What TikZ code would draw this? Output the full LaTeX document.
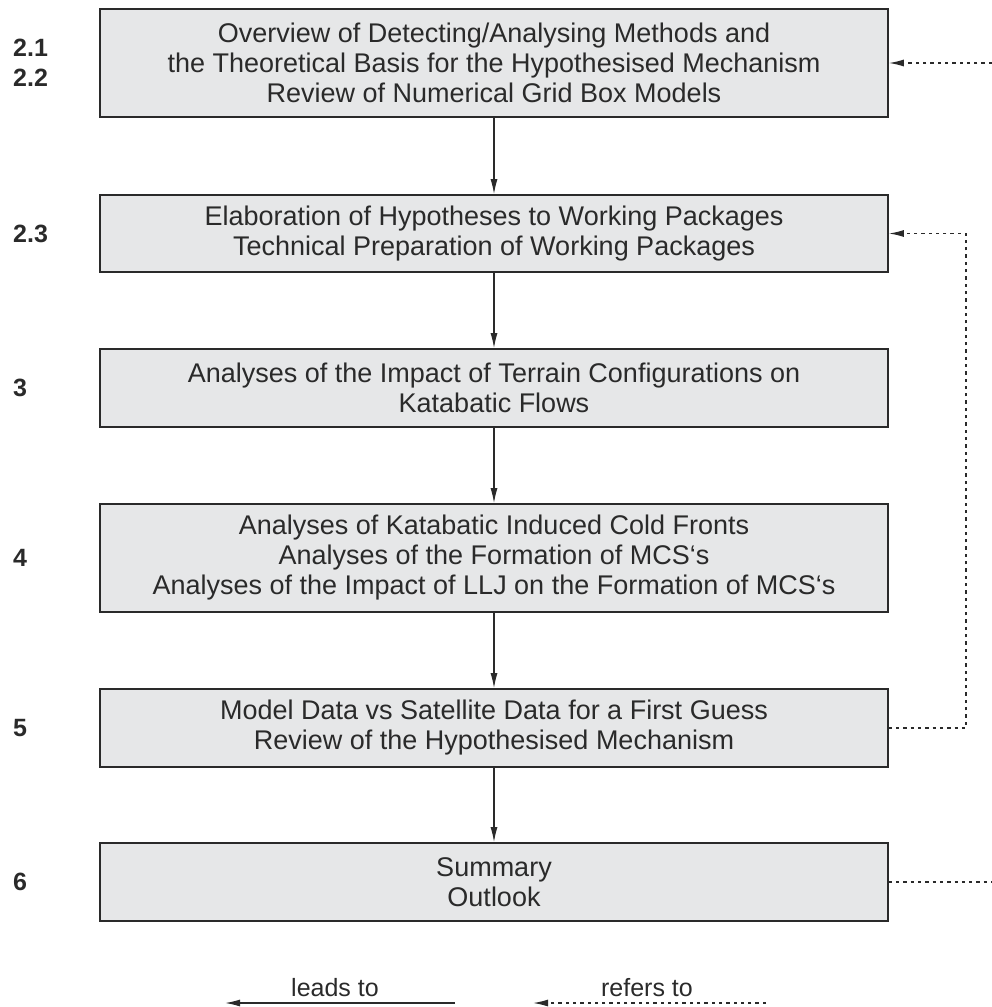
\documentclass[tikz,border=0pt]{standalone}
\usepackage{fontspec}
\setmainfont{Liberation Sans}
\usetikzlibrary{arrows.meta}
\definecolor{boxfill}{HTML}{E6E7E8}
\definecolor{ink}{HTML}{2A2A2A}
\tikzset{
  stage/.style={draw=ink, line width=1.6pt, fill=boxfill, minimum width=788pt,
    inner sep=0pt, align=center, text=ink,
    font=\fontsize{27}{30}\selectfont},
  secnum/.style={anchor=west, inner sep=0pt, text=ink, align=left,
    font=\fontsize{25}{30}\selectfont\bfseries},
  leads/.style={draw=ink, line width=1.3pt, -{Latex[length=15pt,width=7pt]}},
  refers/.style={draw=ink, line width=1.4pt, dash pattern=on 3.3pt off 4pt, -{Latex[length=15pt,width=7pt]}},
  refline/.style={draw=ink, line width=1.4pt, dash pattern=on 3.3pt off 4pt},
  legtext/.style={anchor=base, inner sep=0pt, text=ink, font=\fontsize{25}{28}\selectfont}
}
\begin{document}
\begin{tikzpicture}[x=1pt,y=-1pt]
\useasboundingbox (0,0) rectangle (992,1007);
% boxes
\node[stage, minimum height=108pt] (b1) at (494,63)
  {Overview of Detecting/Analysing Methods and\\the Theoretical Basis for the Hypothesised Mechanism\\Review of Numerical Grid Box Models};
\node[stage, minimum height=77pt] (b2) at (494,233.5)
  {Elaboration of Hypotheses to Working Packages\\Technical Preparation of Working Packages};
\node[stage, minimum height=78pt] (b3) at (494,388)
  {Analyses of the Impact of Terrain Configurations on\\Katabatic Flows};
\node[stage, minimum height=108pt] (b4) at (494,558)
  {Analyses of Katabatic Induced Cold Fronts\\Analyses of the Formation of MCS‘s\\Analyses of the Impact of LLJ on the Formation of MCS‘s};
\node[stage, minimum height=78pt] (b5) at (494,728)
  {Model Data vs Satellite Data for a First Guess\\Review of the Hypothesised Mechanism};
\node[stage, minimum height=78pt] (b6) at (494,882)
  {Summary\\Outlook};
% section numbers
\node[secnum] (n1) at (13,63) {2.1\\2.2};
\node[secnum] (n2) at (13,233.5) {2.3};
\node[secnum] (n3) at (13,388) {3};
\node[secnum] (n4) at (13,558) {4};
\node[secnum] (n5) at (13,728) {5};
\node[secnum] (n6) at (13,882) {6};
% leads-to arrows
\draw[leads] (b1) -- (b2);
\draw[leads] (b2) -- (b3);
\draw[leads] (b3) -- (b4);
\draw[leads] (b4) -- (b5);
\draw[leads] (b5) -- (b6);
% refers-to connectors
\coordinate (r1) at (992,63);
\coordinate (rx) at (966,0);
\coordinate (r6) at (992,882);
\draw[refers] (r1) -- (b1.east);
\draw[refers] (b5.east) -- (b5.east -| rx) |- (b2.east);
\draw[refline] (b6.east) -- (r6);
% legend
\coordinate (la) at (455,1003);
\coordinate (lb) at (225,1003);
\coordinate (ra) at (766,1003);
\coordinate (rb) at (533,1003);
\node[legtext] (lt) at (335,996) {leads to};
\node[legtext] (rt) at (647,996) {refers to};
\draw[leads] (la) -- (lb);
\draw[refers] (ra) -- (rb);
\end{tikzpicture}
\end{document}
